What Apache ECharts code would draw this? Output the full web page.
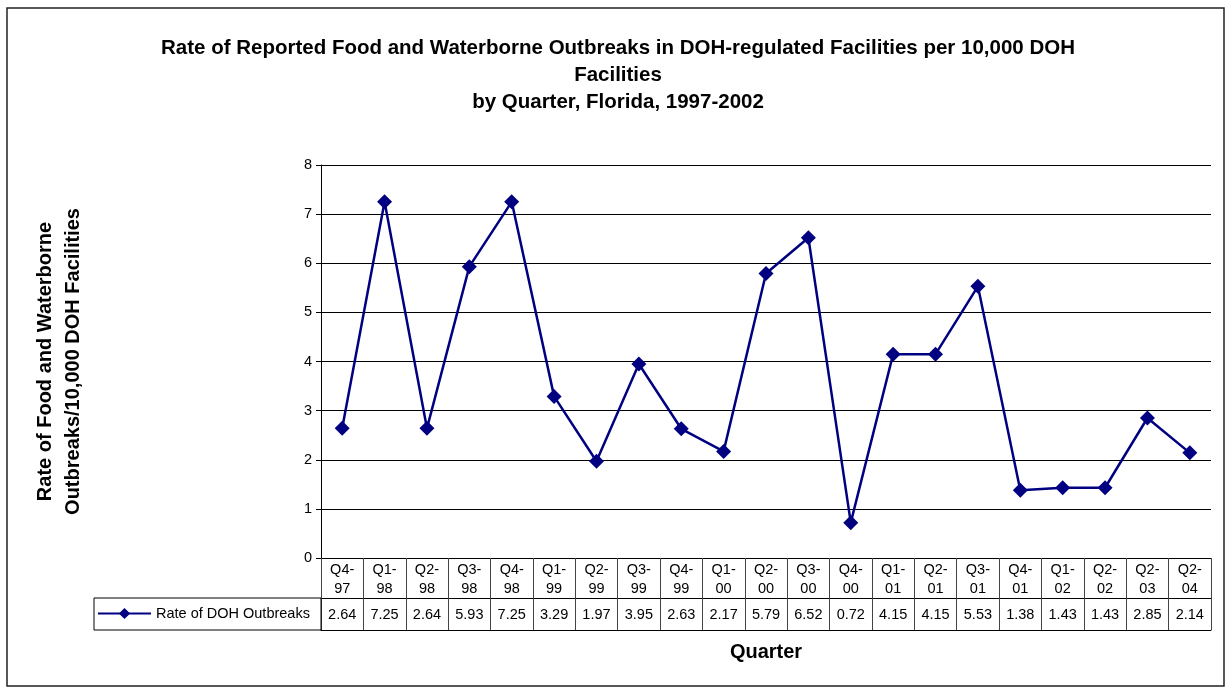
<!DOCTYPE html>
<html>
<head>
<meta charset="utf-8">
<script src="https://cdn.jsdelivr.net/npm/echarts@6/dist/echarts.min.js"></script>
<style>
html,body{margin:0;padding:0;background:#fff;}
#chart{width:1225px;height:688px;}
</style>
</head>
<body>
<div id="chart"></div>
<script>
const categories = ['Q4-97','Q1-98','Q2-98','Q3-98','Q4-98','Q1-99','Q2-99','Q3-99','Q4-99','Q1-00','Q2-00','Q3-00','Q4-00','Q1-01','Q2-01','Q3-01','Q4-01','Q1-02','Q2-02','Q2-03','Q2-04'];
const rates = [2.64,7.25,2.64,5.93,7.25,3.29,1.97,3.95,2.63,2.17,5.79,6.52,0.72,4.15,4.15,5.53,1.38,1.43,1.43,2.85,2.14];
const yTicks = [0,1,2,3,4,5,6,7,8];
const seriesName = 'Rate of DOH Outbreaks';

const chart = echarts.init(document.getElementById('chart'));
const font = 'Liberation Sans, Arial, sans-serif';
const small = 14.5;
const catLabels = categories.map(c => c.replace('-', '-\n'));
const valLabels = rates.map(v => v.toFixed(2));

chart.setOption({
  animation: false,
  backgroundColor: '#fff',
  textStyle: { fontFamily: font },
  title: {
    text: 'Rate of Reported Food and Waterborne Outbreaks in DOH-regulated Facilities per 10,000 DOH\nFacilities\nby Quarter, Florida, 1997-2002',
    left: 613, top: 30, textAlign: 'center',
    textStyle: { fontSize: 20.5, fontWeight: 'bold', color: '#000', lineHeight: 27, fontFamily: font }
  },
  legend: {
    data: [seriesName],
    left: 97, top: 606,
    itemWidth: 53, itemHeight: 14, itemGap: 4,
    textStyle: { fontSize: small, color: '#000', fontFamily: font },
    padding: 0
  },
  grid: { left: 321, right: 14, top: 165, bottom: 130, containLabel: false },
  xAxis: [
    {
      type: 'category', data: catLabels, position: 'bottom', boundaryGap: true,
      axisLine: { show: true, lineStyle: { color: '#000', width: 1 } },
      axisTick: { show: true, length: 72, interval: 0, lineStyle: { color: '#444', width: 1 } },
      axisLabel: { interval: 0, fontSize: small, color: '#000', lineHeight: 19, margin: 2, fontFamily: font }
    },
    {
      type: 'category', data: valLabels, position: 'bottom', offset: 40, boundaryGap: true,
      axisLine: { show: true, lineStyle: { color: '#000', width: 1 } },
      axisTick: { show: false },
      axisLabel: { interval: 0, fontSize: small, color: '#000', margin: 9, fontFamily: font }
    },
    {
      type: 'category', data: categories, position: 'bottom', offset: 72, boundaryGap: true,
      axisLine: { show: true, lineStyle: { color: '#000', width: 1 } },
      axisTick: { show: false }, axisLabel: { show: false },
      name: 'Quarter', nameLocation: 'middle', nameGap: 12,
      nameTextStyle: { fontSize: 20, fontWeight: 'bold', color: '#000', fontFamily: font }
    }
  ],
  yAxis: {
    type: 'value', min: 0, max: 8, interval: 1,
    axisLine: { show: true, lineStyle: { color: '#000', width: 1 } },
    axisTick: { show: true, length: 5, lineStyle: { color: '#000' } },
    axisLabel: { fontSize: small, color: '#000', margin: 9, fontFamily: font,
      formatter: v => yTicks.includes(v) ? String(v) : '' },
    splitLine: { show: true, lineStyle: { color: '#000', width: 1 } },
    name: 'Rate of Food and Waterborne\nOutbreaks/10,000 DOH Facilities',
    nameLocation: 'middle', nameRotate: 90, nameGap: 234,
    nameTextStyle: { fontSize: 20, fontWeight: 'bold', color: '#000', lineHeight: 28, fontFamily: font }
  },
  graphic: [
    { type: 'rect', shape: { x: 7, y: 8, width: 1217, height: 678 }, style: { fill: 'none', stroke: '#222', lineWidth: 1.5 }, z: -10 },
    { type: 'rect', shape: { x: 94, y: 598, width: 227, height: 32 }, style: { fill: 'none', stroke: '#000', lineWidth: 1 }, z: 10 }
  ],
  series: [{
    name: seriesName, type: 'line', data: rates, xAxisIndex: 0,
    symbol: 'diamond', symbolSize: 15,
    lineStyle: { color: '#000080', width: 2.5 },
    itemStyle: { color: '#000080' }
  }]
});
</script>
</body>
</html>
